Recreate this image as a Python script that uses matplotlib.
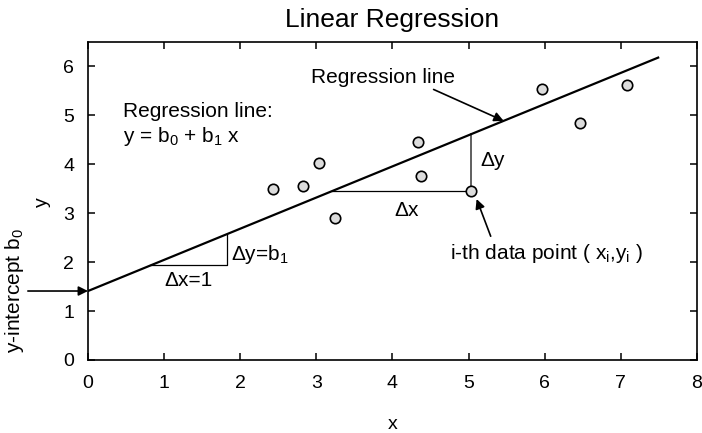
import numpy as np
import matplotlib.pyplot as plt

plt.rcParams['font.family'] = ['Liberation Sans', 'DejaVu Sans']
plt.rcParams['mathtext.fontset'] = 'custom'
plt.rcParams['mathtext.rm'] = 'Liberation Sans'
plt.rcParams['mathtext.it'] = 'Liberation Sans'
plt.rcParams['mathtext.default'] = 'rm'

# data points
x_pts = [2.43, 2.82, 3.04, 3.24, 4.34, 4.38, 5.03, 5.96, 6.46, 7.08]
y_pts = [3.49, 3.55, 4.02, 2.90, 4.45, 3.76, 3.45, 5.53, 4.84, 5.63]

# regression line
b0 = 1.41
b1 = 0.637
x_line = [0.0, 7.49]

x_ticks = [0, 1, 2, 3, 4, 5, 6, 7, 8]
y_ticks = [0, 1, 2, 3, 4, 5, 6]

FS = 15

fig = plt.figure(figsize=(7.02, 4.33), dpi=100)
ax = fig.add_axes([0.12536, 0.1686, 0.8675, 0.7344])

ax.plot(x_line, [b0 + b1 * v for v in x_line], color='black', lw=1.6, zorder=3)

# slope triangle  dx = 1
tx0 = 0.82
ty0 = b0 + b1 * tx0
ax.plot([tx0, tx0 + 1, tx0 + 1], [ty0, ty0, ty0 + b1], color='black', lw=0.9)
ax.text(tx0 + 0.5, ty0 - 0.12, 'Δx=1', ha='center', va='top', fontsize=FS)
ax.text(tx0 + 1.06, ty0 + 0.22, 'Δy=b$_1$', ha='left', va='center', fontsize=FS)

# triangle to the i-th data point
xi, yi = x_pts[6], y_pts[6]
xs = (yi - b0) / b1
ax.plot([xs, xi], [yi, yi], color='black', lw=0.9)
ax.plot([xi, xi], [yi, b0 + b1 * xi], color='#444444', lw=1.2)
ax.text(4.18, 3.06, 'Δx', ha='center', va='center', fontsize=FS)
ax.text(5.16, 4.08, 'Δy', ha='left', va='center', fontsize=FS)

ax.plot(x_pts, y_pts, 'o', ms=7.5, mfc='#dcdcdc', mec='black', mew=1.2, ls='none', zorder=4)

arrow = dict(arrowstyle='-|>', color='black', lw=1.2, mutation_scale=14, shrinkA=0, shrinkB=0)
ax.annotate('', xy=(5.46, b0 + b1 * 5.46), xytext=(4.54, 5.53), arrowprops=arrow)
ax.text(3.87, 5.67, 'Regression line', ha='center', va='baseline', fontsize=FS)

ax.annotate('', xy=(5.105, 3.29), xytext=(5.29, 2.53), arrowprops=arrow)
ax.text(6.03, 2.18, 'i-th data point ( x$_{\\mathrm{i}}$,y$_{\\mathrm{i}}$ )',
        ha='center', va='center', fontsize=FS)

ax.annotate('', xy=(0, b0), xytext=(-0.79, b0), arrowprops=arrow, annotation_clip=False)
ax.text(-0.96, b0, 'y-intercept b$_0$', rotation=90, ha='center', va='center',
        fontsize=FS, clip_on=False)

ax.text(0.46, 4.96, 'Regression line:', ha='left', va='baseline', fontsize=FS)
ax.text(0.46, 4.45, 'y = b$_0$ + b$_1$ x', ha='left', va='baseline', fontsize=FS)

ax.set_xlim(0, 8)
ax.set_ylim(0, 6.5)
ax.set_xticks(x_ticks)
ax.set_yticks(y_ticks)
ax.tick_params(direction='in', top=True, right=True, length=5, width=1.1,
               labelsize=14)
ax.tick_params(axis='x', pad=11)
ax.tick_params(axis='y', pad=10)
for s in ax.spines.values():
    s.set_linewidth(1.2)

ax.text(0.5, -0.202, 'x', transform=ax.transAxes, ha='center', va='center', fontsize=14)
ax.text(-0.074, 0.497, 'y', transform=ax.transAxes, ha='center', va='center',
        rotation=90, fontsize=14)
ax.set_title('Linear Regression', fontsize=19, pad=11)

fig.savefig('out.png', dpi=100)
